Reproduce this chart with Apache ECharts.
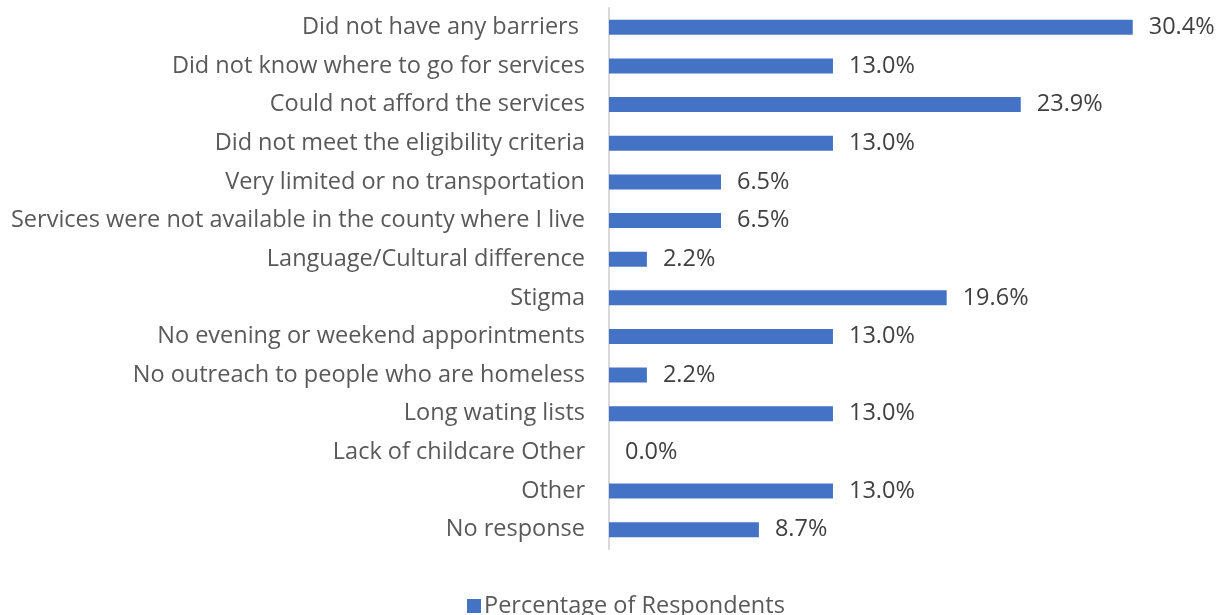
<!DOCTYPE html>
<html>
<head>
<meta charset="utf-8">
<script src="https://cdn.jsdelivr.net/npm/echarts@6/dist/echarts.min.js"></script>
<style>
  html, body { margin: 0; padding: 0; background: #fff; }
  #main { width: 1225px; height: 615px; }
</style>
</head>
<body>
<div id="main"></div>
<script>
  // categories, top to bottom as in the picture
  var categories = [
    'Did not have any barriers ',
    'Did not know where to go for services',
    'Could not afford the services',
    'Did not meet the eligibility criteria',
    'Very limited or no transportation',
    'Services were not available in the county where I live',
    'Language/Cultural difference',
    'Stigma',
    'No evening or weekend apporintments',
    'No outreach to people who are homeless',
    'Long wating lists',
    'Lack of childcare Other',
    'Other',
    'No response'
  ];
  var percentValues = [30.4, 13.0, 23.9, 13.0, 6.5, 6.5, 2.2, 19.6, 13.0, 2.2, 13.0, 0.0, 13.0, 8.7];
  var seriesName = 'Percentage of Respondents';

  var chart = echarts.init(document.getElementById('main'));

  chart.setOption({
    animation: false,
    textStyle: { fontFamily: '"Open Sans", "Noto Sans", sans-serif' },
    grid: {
      left: 609,
      right: 13,
      top: 8,
      bottom: 66
    },
    legend: {
      data: [seriesName],
      left: 462,
      top: 589,
      itemWidth: 14,
      itemHeight: 14,
      itemGap: 6,
      icon: 'rect',
      textStyle: { fontSize: 23.5, color: '#595959', padding: [0, 0, 0, -2] }
    },
    xAxis: {
      type: 'value',
      min: 0,
      max: 35,
      show: false,
      splitLine: { show: false }
    },
    yAxis: {
      type: 'category',
      inverse: true,
      data: categories,
      axisLine: { show: true, lineStyle: { color: '#d9d9d9', width: 2 } },
      axisTick: { show: false },
      axisLabel: { fontSize: 23.5, color: '#595959', margin: 24 }
    },
    series: [{
      name: seriesName,
      type: 'bar',
      data: percentValues,
      barWidth: 15,
      itemStyle: { color: '#4472c4' },
      label: {
        show: true,
        position: 'right',
        distance: 16,
        fontSize: 23.5,
        color: '#404040',
        formatter: function (p) { return p.value.toFixed(1) + '%'; }
      }
    }]
  });
</script>
</body>
</html>
